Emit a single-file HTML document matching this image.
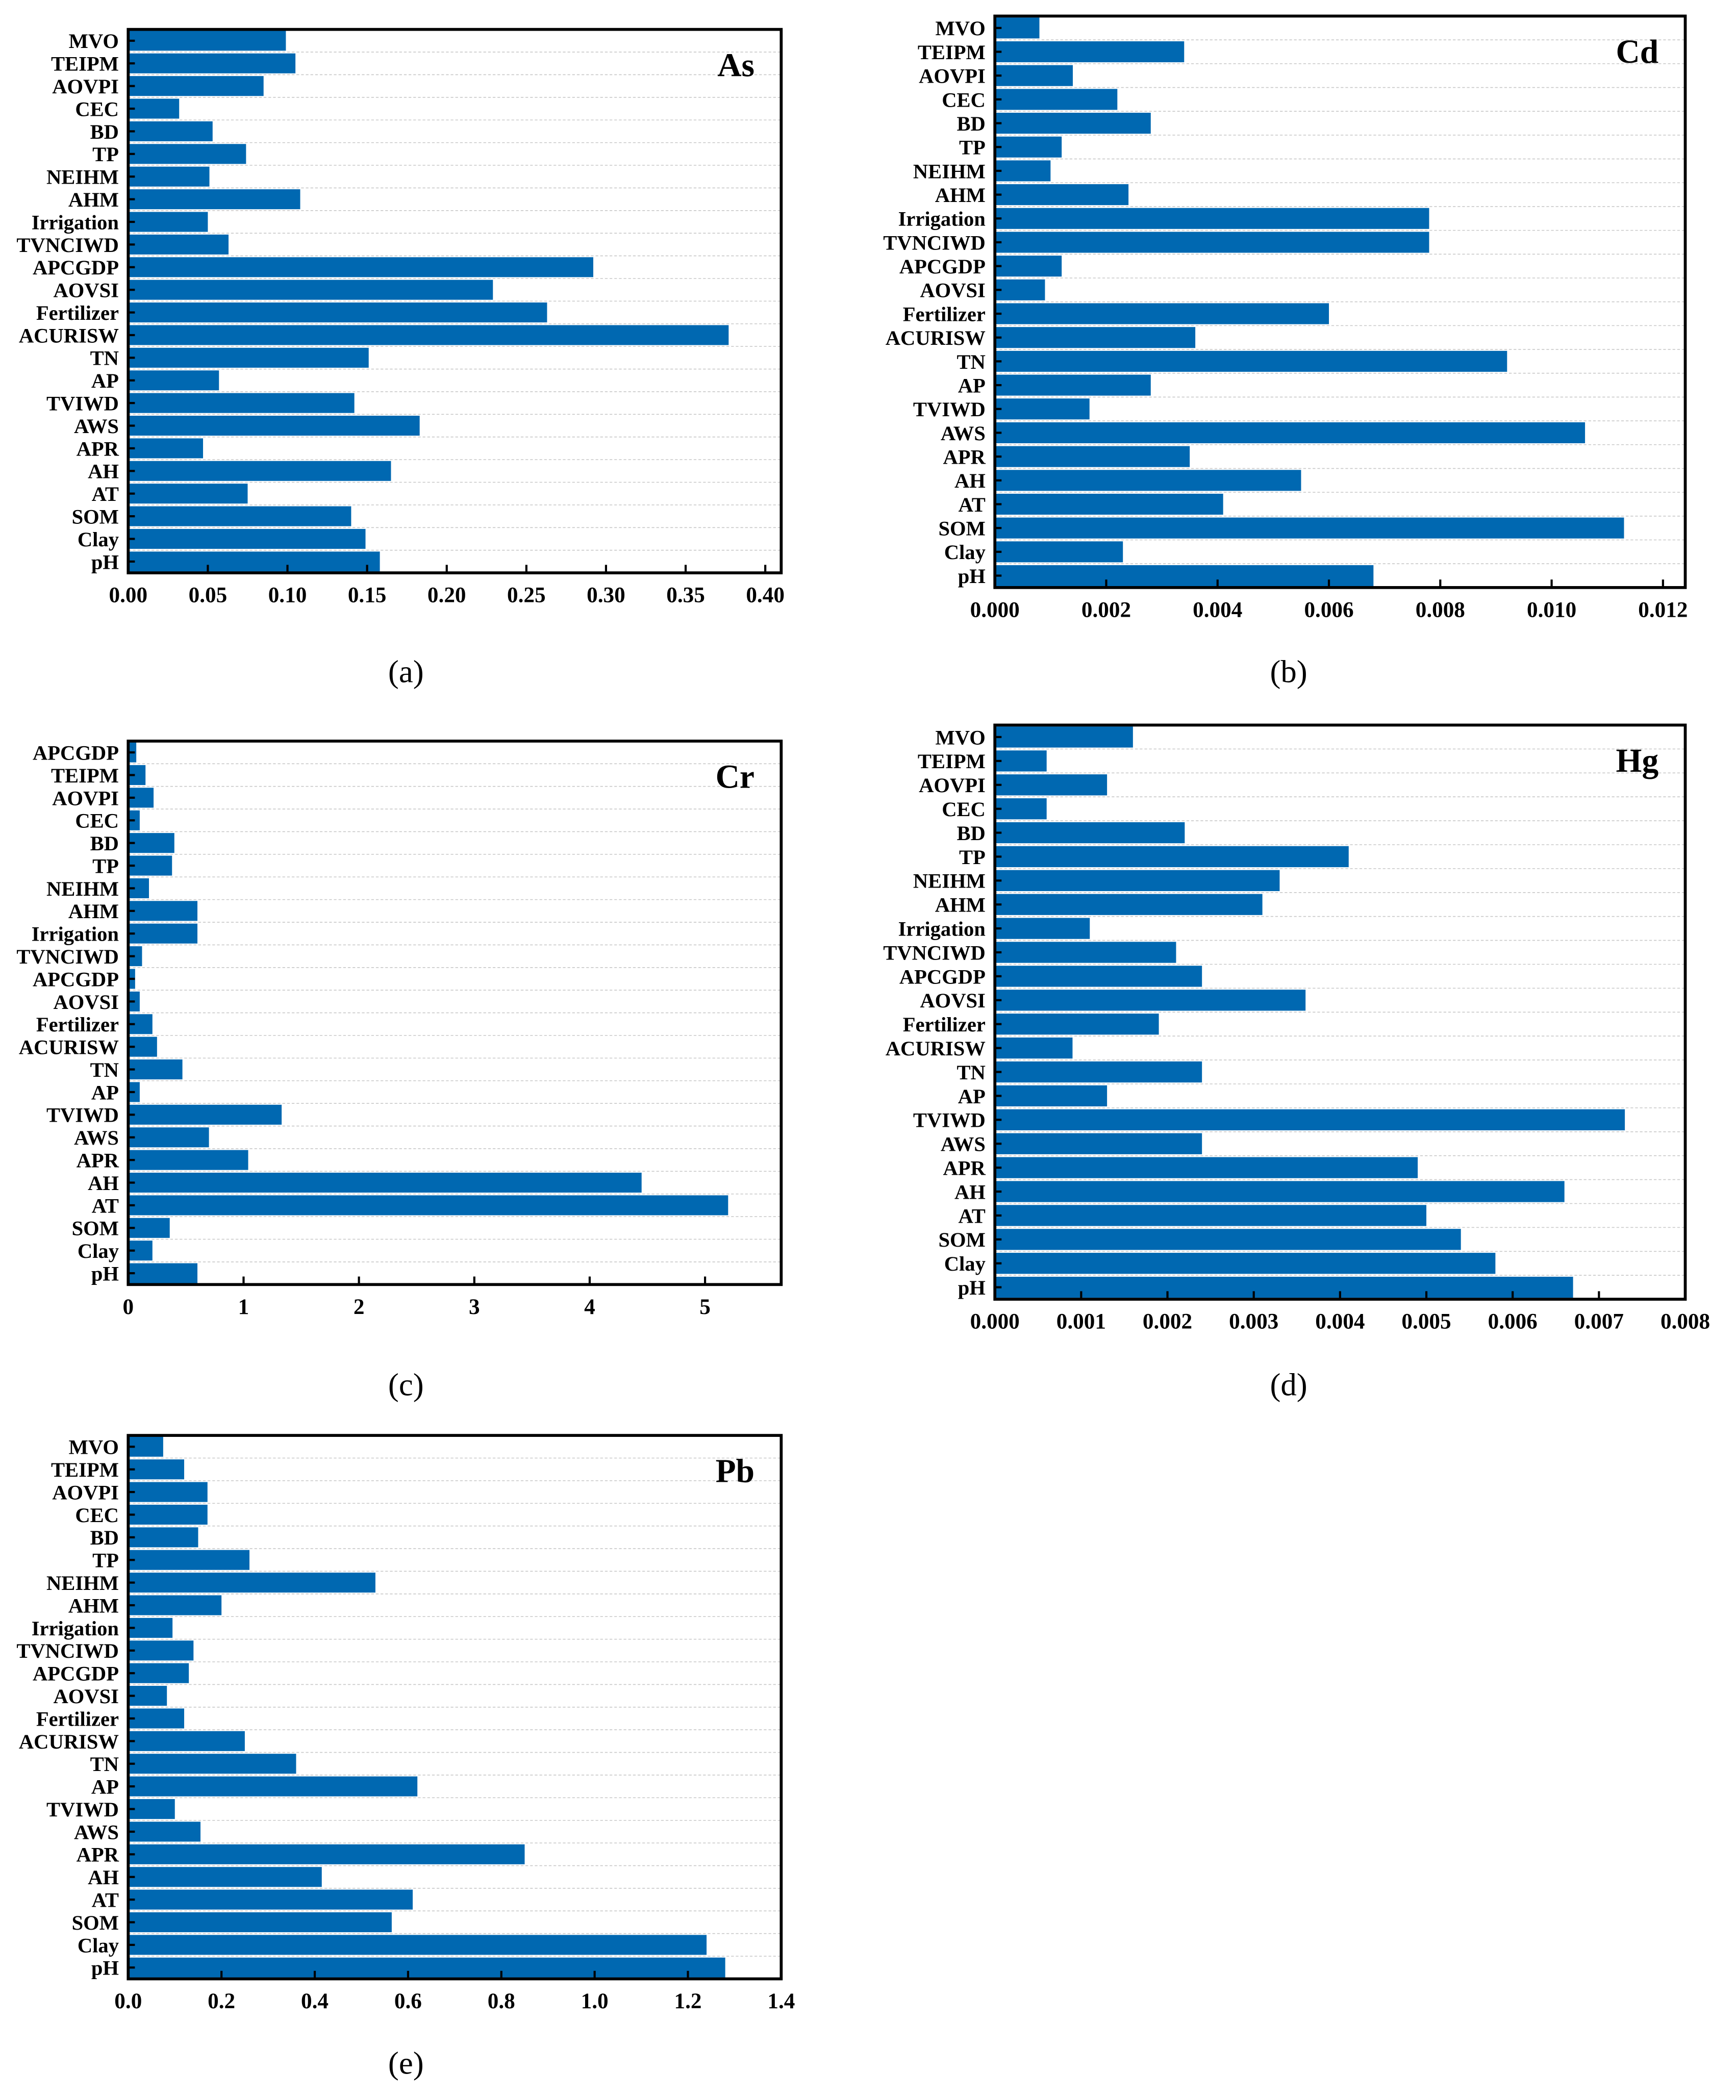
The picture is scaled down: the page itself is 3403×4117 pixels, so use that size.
<!DOCTYPE html>
<html><head><meta charset="utf-8">
<style>
html,body{margin:0;padding:0;background:#fff;}
svg{display:block;}
text{font-family:"Liberation Serif",serif;font-weight:bold;fill:#000;}
</style></head>
<body>
<svg id="fig" width="3403" height="4117" viewBox="0 0 1300 1572.7" xmlns="http://www.w3.org/2000/svg"></svg>
<script>
const catsMain = ["MVO","TEIPM","AOVPI","CEC","BD","TP","NEIHM","AHM","Irrigation","TVNCIWD","APCGDP","AOVSI","Fertilizer","ACURISW","TN","AP","TVIWD","AWS","APR","AH","AT","SOM","Clay","pH"];
const catsCr = ["APCGDP","TEIPM","AOVPI","CEC","BD","TP","NEIHM","AHM","Irrigation","TVNCIWD","APCGDP","AOVSI","Fertilizer","ACURISW","TN","AP","TVIWD","AWS","APR","AH","AT","SOM","Clay","pH"];
const valsAs = [0.099,0.105,0.085,0.032,0.053,0.074,0.051,0.108,0.050,0.063,0.292,0.229,0.263,0.377,0.151,0.057,0.142,0.183,0.047,0.165,0.075,0.140,0.149,0.158];
const valsCd = [0.0008,0.0034,0.0014,0.0022,0.0028,0.0012,0.0010,0.0024,0.0078,0.0078,0.0012,0.0009,0.0060,0.0036,0.0092,0.0028,0.0017,0.0106,0.0035,0.0055,0.0041,0.0113,0.0023,0.0068];
const valsCr = [0.07,0.15,0.22,0.10,0.40,0.38,0.18,0.60,0.60,0.12,0.06,0.10,0.21,0.25,0.47,0.10,1.33,0.70,1.04,4.45,5.20,0.36,0.21,0.60];
const valsHg = [0.0016,0.0006,0.0013,0.0006,0.0022,0.0041,0.0033,0.0031,0.0011,0.0021,0.0024,0.0036,0.0019,0.0009,0.0024,0.0013,0.0073,0.0024,0.0049,0.0066,0.0050,0.0054,0.0058,0.0067];
const valsPb = [0.075,0.12,0.17,0.17,0.15,0.26,0.53,0.20,0.095,0.14,0.13,0.083,0.12,0.25,0.36,0.62,0.10,0.155,0.85,0.415,0.61,0.565,1.24,1.28];
const ticksAs = [0,0.05,0.10,0.15,0.20,0.25,0.30,0.35,0.40];
const tickLabelsAs = ["0.00","0.05","0.10","0.15","0.20","0.25","0.30","0.35","0.40"];
const ticksCd = [0,0.002,0.004,0.006,0.008,0.010,0.012];
const tickLabelsCd = ["0.000","0.002","0.004","0.006","0.008","0.010","0.012"];
const ticksCr = [0,1,2,3,4,5];
const tickLabelsCr = ["0","1","2","3","4","5"];
const ticksHg = [0,0.001,0.002,0.003,0.004,0.005,0.006,0.007,0.008];
const tickLabelsHg = ["0.000","0.001","0.002","0.003","0.004","0.005","0.006","0.007","0.008"];
const ticksPb = [0,0.2,0.4,0.6,0.8,1.0,1.2,1.4];
const tickLabelsPb = ["0.0","0.2","0.4","0.6","0.8","1.0","1.2","1.4"];

const NS = "http://www.w3.org/2000/svg";
const svg = document.getElementById('fig');
function mk(tag, parent, attrs){const e=document.createElementNS(NS,tag);for(const k in attrs)e.setAttribute(k,attrs[k]);parent.appendChild(e);return e;}

function panel(o){
  const g = mk('g', svg, {});
  
  
  const xs = v => o.x0 + (v - 0) / (o.xmax) * (o.x1 - o.x0);
  const n = o.cats.length, slot = (o.y1 - o.y0) / n;
  for (let i = 1; i < n; i++) {
    const l = mk('line', g, {x1:o.x0, x2:o.x1, y1:o.y0+i*slot, y2:o.y0+i*slot, stroke:'#c8c8c8', 'stroke-width':0.6, 'stroke-dasharray':'2,1.5'});
    
    
  }
  o.vals.forEach((v, i) => {
    const r = mk('rect', g, {x:xs(0), y:o.y0+i*slot+slot*0.06, width:xs(v)-xs(0), height:slot*0.88, fill:'#0068b1'});
    
    
    const t = mk('text', g, {x:o.x0-7, y:o.y0+(i+0.5)*slot+5.5, 'text-anchor':'end', 'font-size':15.5});
    t.textContent = o.cats[i];
    
    
    mk('line', g, {x1:o.x0, x2:o.x0+5, y1:o.y0+(i+0.5)*slot, y2:o.y0+(i+0.5)*slot, stroke:'#000', 'stroke-width':1.6});
  });
  o.ticks.forEach((v, i) => {
    const x = xs(v);
    mk('line', g, {x1:x, x2:x, y1:o.y1, y2:o.y1-6, stroke:'#000', 'stroke-width':1.6});
    const t = mk('text', g, {x:x, y:o.y1+22, 'text-anchor':'middle', 'font-size':16.5});
    t.textContent = o.tickLabels[i];
    
    
  });
  const b = mk('rect', g, {x:o.x0, y:o.y0, width:o.x1-o.x0, height:o.y1-o.y0, fill:'none', stroke:'#000', 'stroke-width':2.2});
  
  
  const ti = mk('text', g, {x:o.x1-20, y:o.y0+35, 'text-anchor':'end', 'font-size':25});
  ti.textContent = o.id;
  
  
  const cap = mk('text', g, {x:o.capX, y:o.capY, 'text-anchor':'middle', 'font-size':24, style:'font-weight:normal'});
  cap.textContent = o.cap;
  
  
}

panel({id:'As', cats:catsMain, vals:valsAs, ticks:ticksAs, tickLabels:tickLabelsAs, x0:96, x1:585, y0:22, y1:429, xmax:0.41, capX:304, capY:511, cap:'(a)'});
panel({id:'Cd', cats:catsMain, vals:valsCd, ticks:ticksCd, tickLabels:tickLabelsCd, x0:745, x1:1262, y0:12, y1:440, xmax:0.0124, capX:965, capY:511, cap:'(b)'});
panel({id:'Cr', cats:catsCr, vals:valsCr, ticks:ticksCr, tickLabels:tickLabelsCr, x0:96, x1:585, y0:555, y1:962, xmax:5.66, capX:304, capY:1045, cap:'(c)'});
panel({id:'Hg', cats:catsMain, vals:valsHg, ticks:ticksHg, tickLabels:tickLabelsHg, x0:745, x1:1262, y0:543, y1:973, xmax:0.008, capX:965, capY:1045, cap:'(d)'});
panel({id:'Pb', cats:catsMain, vals:valsPb, ticks:ticksPb, tickLabels:tickLabelsPb, x0:96, x1:585, y0:1075, y1:1482, xmax:1.4, capX:304, capY:1553, cap:'(e)'});
</script>
</body></html>
